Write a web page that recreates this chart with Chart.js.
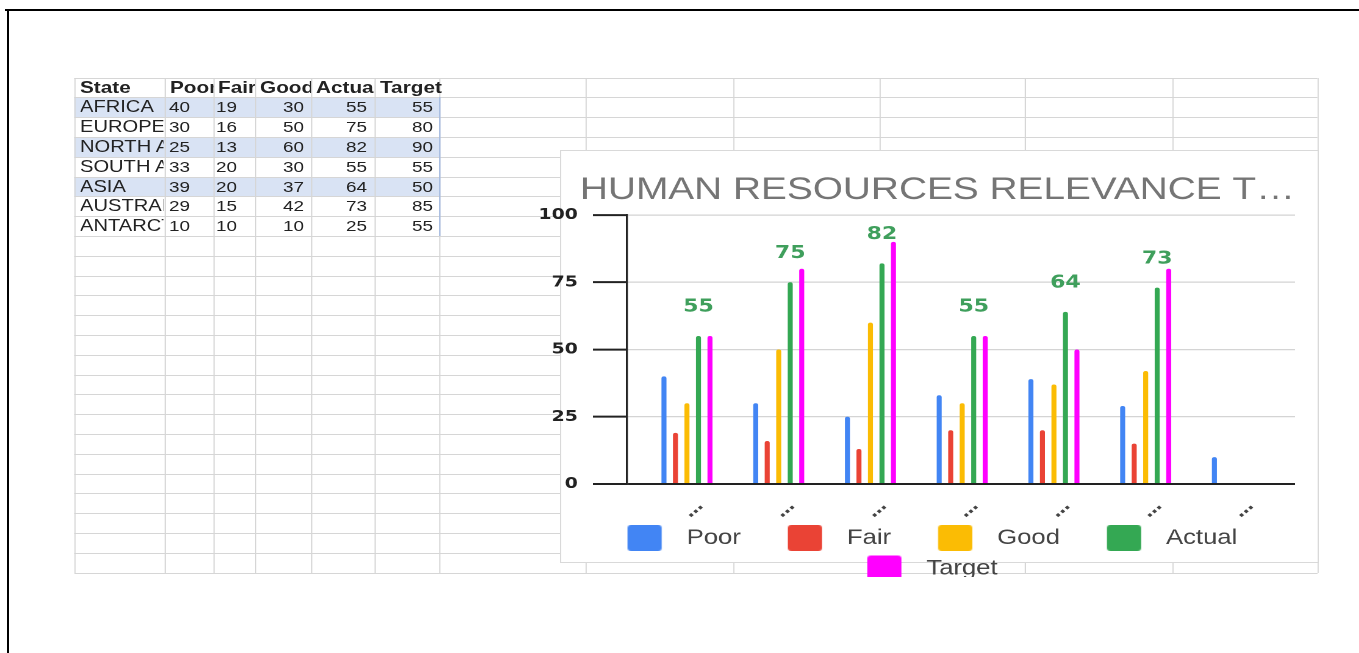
<!DOCTYPE html>
<html>
<head>
<meta charset="utf-8">
<title>Human resources relevance</title>
<script src="https://cdn.jsdelivr.net/npm/chart.js@4.4.1/dist/chart.umd.min.js"></script>
<style>
  html, body { margin: 0; padding: 0; background: #fff; }
  body { width: 1359px; height: 653px; position: relative; overflow: hidden; font-family: "Liberation Sans", Arial, sans-serif; }
  .edge { position: absolute; background: #000; }
  /* the photographed screen is stretched sideways, so the whole sheet is too */
  #page { position: absolute; left: 0; top: 0; width: 1114px; height: 653px; transform: scaleX(1.22); transform-origin: 0 0; }
  .hl { position: absolute; background: #d9e3f4; }
  .hline, .vline { position: absolute; background: #d6d6d6; }
  .blue { position: absolute; background: #9fb7e3; }
  .cell { position: absolute; line-height: 19.8px; white-space: nowrap; overflow: hidden; color: #222; font-size: 16.5px; }
  .cell.num { text-align: right; font-size: 15.5px; }
  .cell.head { font-weight: bold; font-size: 17px; }
  #chartClip { position: absolute; left: 430px; top: 150px; width: 651px; height: 427px; overflow: hidden; z-index: 2; }
  #chartBox { position: relative; width: 651px; height: 439px; }
</style>
</head>
<body>
<div class="edge" style="left:5px;top:9px;width:1354px;height:2px"></div>
<div class="edge" style="left:7px;top:9px;width:2px;height:644px"></div>
<div id="page">
  <div id="chartClip"><div id="chartBox"><canvas id="chart"></canvas></div></div>
</div>
<script>
// sheet A1:F8
const headers = ['State', 'Poor', 'Fair', 'Good', 'Actual', 'Target'];
const states = ['AFRICA', 'EUROPE', 'NORTH AMERICA', 'SOUTH AMERICA', 'ASIA', 'AUSTRALIA', 'ANTARCTICA'];
const poor = [40, 30, 25, 33, 39, 29, 10];
const fair = [19, 16, 13, 20, 20, 15, 10];
const good = [30, 50, 60, 30, 37, 42, 10];
const actual = [55, 75, 82, 55, 64, 73, 25];
const target = [55, 80, 90, 55, 50, 85, 55];
// the chart still shows the old AUSTRALIA target (80), and its range stops at
// AUSTRALIA for every series except Poor
const poorPlotted = [40, 30, 25, 33, 39, 29, 10];
const fairPlotted = [19, 16, 13, 20, 20, 15];
const goodPlotted = [30, 50, 60, 30, 37, 42];
const actualPlotted = [55, 75, 82, 55, 64, 73];
const targetPlotted = [55, 80, 90, 55, 50, 80];
const yTicks = [0, 25, 50, 75, 100];
const chartTitle = 'HUMAN RESOURCES RELEVANCE T\u2026';

const S = 1.22;
const page = document.getElementById('page');
const clip = document.getElementById('chartClip');
const colX = [75, 165, 213, 255, 311, 375, 439, 585, 733, 880, 1025, 1172, 1318];
const numRight = [0, 190, 237, 304, 367, 433];
const rowY0 = 77.5, rowH = 19.8, rowN = 25;

function add(cls, x, y, w, h, text) {
  const d = document.createElement('div');
  d.className = cls;
  d.style.left = (x / S) + 'px';
  d.style.top = y + 'px';
  d.style.width = (w / S) + 'px';
  d.style.height = h + 'px';
  if (text != null) d.textContent = text;
  page.insertBefore(d, clip);
  return d;
}

[1, 3, 5].forEach(r => add('hl', colX[0], rowY0 + r * rowH, colX[6] - colX[0], rowH));
for (let r = 0; r <= rowN; r++) add('hline', colX[0], rowY0 + r * rowH, colX[12] - colX[0], 1);
colX.forEach(x => add('vline', x, rowY0, 1.2, rowN * rowH));
add('blue', colX[6], rowY0 + rowH, 1.5, 7 * rowH);

headers.forEach((h, c) => {
  const w = c === 5 ? 80 : colX[c + 1] - colX[c] - 5;
  add('cell head', colX[c] + 5, rowY0, w, rowH, h);
});
const cols = [poor, fair, good, actual, target];
states.forEach((s, i) => {
  const y = rowY0 + (i + 1) * rowH;
  add('cell', colX[0] + 5, y, colX[1] - colX[0] - 6, rowH, s);
  cols.forEach((arr, k) => add('cell num', colX[k + 1], y, numRight[k + 1] - colX[k + 1], rowH, String(arr[i])));
});

// chart
const names = headers.slice(1);
const colors = ['#4285f4', '#ea4335', '#fbbc04', '#34a853', '#ff00ff'];
const series = [poorPlotted, fairPlotted, goodPlotted, actualPlotted, targetPlotted];

function swatch(color) {
  const c = document.createElement('canvas');
  c.width = 67; c.height = 26;
  const g = c.getContext('2d');
  g.fillStyle = color;
  g.beginPath();
  g.roundRect(29, 0, 28, 26, 3);
  g.fill();
  return c;
}
const swatches = colors.map(swatch);

const card = {
  id: 'card',
  beforeDraw(chart) {
    const ctx = chart.ctx;
    ctx.save();
    ctx.fillStyle = '#fff';
    ctx.fillRect(29, 0, 622, 413);
    ctx.strokeStyle = '#d9d9d9';
    ctx.lineWidth = 1;
    ctx.strokeRect(29.5, 0.5, 621, 412);
    ctx.font = '31.8px "Liberation Sans", Arial, sans-serif';
    ctx.fillStyle = '#757575';
    ctx.textBaseline = 'alphabetic';
    ctx.fillText(chartTitle, 45.4, 49);
    ctx.restore();
  }
};

const actualLabels = {
  id: 'actualLabels',
  afterDatasetsDraw(chart) {
    const ds = chart.data.datasets[3];
    const ctx = chart.ctx;
    ctx.save();
    ctx.font = 'bold 18px "DejaVu Sans", sans-serif';
    ctx.fillStyle = '#3f9f5c';
    ctx.textAlign = 'center';
    ctx.textBaseline = 'middle';
    chart.getDatasetMeta(3).data.forEach((bar, i) => {
      ctx.fillText(String(ds.data[i]), bar.x, bar.y - 29);
    });
    ctx.restore();
  }
};

new Chart(document.getElementById('chart'), {
  type: 'bar',
  data: {
    labels: states,
    datasets: names.map((n, k) => ({
      label: n,
      data: series[k],
      backgroundColor: colors[k],
      categoryPercentage: 0.627,
      barPercentage: 0.435,
      borderRadius: { topLeft: 2, topRight: 2, bottomLeft: 0, bottomRight: 0 }
    }))
  },
  options: {
    responsive: true,
    maintainAspectRatio: false,
    animation: false,
    devicePixelRatio: 2,
    layout: { padding: { left: 8, right: 19.5, top: 65, bottom: 0 } },
    scales: {
      x: {
        grid: { display: false, drawTicks: false },
        border: { display: false },
        ticks: {
          autoSkip: false, minRotation: 45, maxRotation: 45, padding: 13, labelOffset: 11,
          color: '#444', font: { family: '"DejaVu Sans", sans-serif', size: 16, weight: 'bold' },
          callback: () => '\u2026'
        },
        // Sheets leaves a margin before the first and after the last group
        afterBuildTicks: s => { s._startValue = -0.654; s._valueRange = 7.282; },
        afterFit: s => { s.height = 34; }
      },
      y: {
        min: 0,
        max: 100,
        afterBuildTicks: s => { s.ticks = yTicks.map(v => ({ value: v })); },
        grid: {
          color: c => c.tick.value === 0 ? '#222' : '#d4d4d4',
          lineWidth: c => c.tick.value === 0 ? 2 : 1.3,
          tickColor: '#222', tickWidth: 2, tickLength: 27.9
        },
        border: { color: '#222', width: 1.7 },
        ticks: { padding: 12.3, color: '#222', font: { family: '"DejaVu Sans", sans-serif', size: 15.5, weight: 'bold' } },
        afterFit: s => { s.width = 75.9; }
      }
    },
    plugins: {
      legend: {
        position: 'bottom',
        labels: {
          usePointStyle: true,
          pointStyleWidth: 67,
          padding: 9.5,
          color: '#444',
          font: { family: '"Liberation Sans", Arial, sans-serif', size: 21 },
          generateLabels: chart => Chart.defaults.plugins.legend.labels.generateLabels(chart)
            .map((item, i) => Object.assign(item, { pointStyle: swatches[i] }))
        }
      },
      tooltip: { enabled: false }
    }
  },
  plugins: [card, actualLabels]
});
</script>
</body>
</html>
